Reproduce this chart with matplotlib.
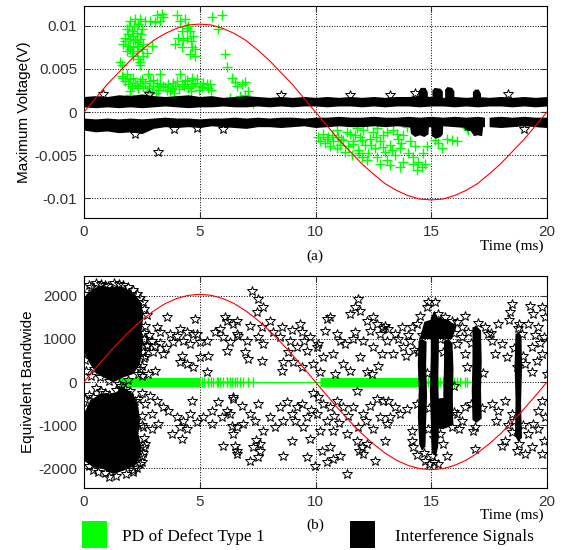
import numpy as np
import matplotlib.pyplot as plt
from matplotlib.patches import Rectangle

plt.rcParams['font.family'] = 'Liberation Sans'
plt.rcParams['axes.unicode_minus'] = False

GREEN = '#00ff00'

# power-frequency reference (one cycle, 20 ms), sampled every 0.5 ms
ref_t = [0, 0.5, 1, 1.5, 2, 2.5, 3, 3.5, 4, 4.5, 5, 5.5, 6, 6.5, 7, 7.5, 8, 8.5, 9, 9.5,
         10, 10.5, 11, 11.5, 12, 12.5, 13, 13.5, 14, 14.5, 15, 15.5, 16, 16.5, 17, 17.5,
         18, 18.5, 19, 19.5, 20]
ref_v = [0, .0016, .0032, .0046, .0060, .0072, .0083, .0091, .0097, .0101, .0102, .0101,
         .0097, .0091, .0083, .0072, .0060, .0046, .0032, .0016, 0, -.0016, -.0032, -.0046,
         -.0060, -.0072, -.0083, -.0091, -.0097, -.0101, -.0102, -.0101, -.0097, -.0091,
         -.0083, -.0072, -.0060, -.0046, -.0032, -.0016, 0]
ref_bw = [0, 320, 630, 925, 1200, 1440, 1650, 1820, 1940, 2015, 2040, 2015, 1940, 1820,
          1650, 1440, 1200, 925, 630, 320, 0, -320, -630, -925, -1200, -1440, -1650, -1820,
          -1940, -2015, -2040, -2015, -1940, -1820, -1650, -1440, -1200, -925, -630, -320, 0]

# ---------- (a) maximum voltage ----------
# PD of defect type 1 (time ms, voltage V)
pd_a = [
    (1.99, .0106), (2.20, .0108), (2.42, .0108), (2.63, .0106), (2.35, .0102),
    (1.84, .0096), (2.06, .0094), (2.27, .0092), (2.49, .0096), (1.77, .0086),
    (1.99, .0085), (2.20, .0083), (2.42, .0085), (1.70, .0079), (1.92, .0077),
    (2.13, .0075), (2.35, .0077), (2.56, .0079), (1.84, .0071), (2.06, .0069),
    (2.27, .0071), (2.49, .0073), (2.92, .0077), (2.71, .0069), (2.35, .0061),
    (2.42, .0055), (1.63, .0054), (2.13, .0065), (2.56, .0065), (1.90, .0090),
    (2.10, .0088), (2.30, .0081), (1.75, .0082), (2.00, .0073), (2.45, .0090),
    (2.15, .0100), (1.95, .0100), (3.14, .0112), (3.28, .0106), (3.43, .0110),
    (3.35, .0114), (2.85, .0106), (3.06, .0104), (4.00, .0112), (4.15, .0106),
    (4.36, .0108), (4.50, .0100), (4.22, .0094), (4.58, .0094), (4.72, .0088),
    (4.43, .0086), (4.07, .0086), (4.29, .0083), (3.93, .0079), (4.22, .0075),
    (4.65, .0075), (4.80, .0073), (4.58, .0067), (4.80, .0065), (4.45, .0097),
    (4.60, .0082), (5.51, .0110), (5.95, .0112), (5.80, .0096), (6.09, .0067),
    (6.16, .0052), (6.38, .0040), (6.52, .0035), (6.60, .0030), (6.81, .0033),
    (6.95, .0035), (7.10, .0024), (6.95, .0020), (6.74, .0018), (6.30, .0016),
    (7.32, .0010),
    (1.63, .0042), (1.84, .0044), (1.77, .0036), (1.99, .0038), (2.06, .0030),
    (2.20, .0034), (2.42, .0036), (2.35, .0028), (2.56, .0030), (2.78, .0044),
    (2.85, .0036), (2.99, .0030), (3.14, .0034), (3.28, .0044), (3.21, .0026),
    (3.43, .0030), (3.57, .0026), (3.78, .0028), (3.93, .0030), (4.00, .0036),
    (4.15, .0044), (4.22, .0032), (4.36, .0036), (4.50, .0028), (4.65, .0040),
    (4.72, .0032), (4.87, .0038), (5.01, .0030), (5.15, .0034), (5.30, .0032),
    (5.37, .0028), (2.71, .0024), (2.92, .0022), (3.64, .0032), (1.99, .0024),
    (1.70, .0039), (1.90, .0033), (2.10, .0040), (2.30, .0031), (2.50, .0038),
    (2.65, .0034), (2.80, .0028), (3.00, .0037), (3.30, .0033), (3.50, .0029),
    (3.70, .0024), (3.85, .0034), (4.10, .0027), (4.30, .0030), (4.45, .0037),
    (4.60, .0030), (4.80, .0034), (4.95, .0026), (5.10, .0029), (5.45, .0033),
    (5.50, .0026), (2.00, .0020), (3.10, .0022), (3.90, .0022), (4.60, .0024),
    (1.55, .0058), (2.40, .0058),
    (10.12, -.0029), (10.34, -.0025), (10.48, -.0031), (10.70, -.0027), (10.77, -.0034),
    (10.99, -.0029), (11.06, -.0038), (11.20, -.0033), (11.42, -.0040), (11.49, -.0025),
    (11.63, -.0034), (11.78, -.0019), (11.85, -.0044), (11.92, -.0029), (12.07, -.0021),
    (12.14, -.0038), (12.28, -.0048), (12.36, -.0031), (12.50, -.0023), (12.57, -.0042),
    (12.64, -.0052), (12.79, -.0034), (12.93, -.0027), (13.00, -.0046), (13.08, -.0056),
    (13.22, -.0038), (13.36, -.0021), (13.44, -.0050), (13.58, -.0031), (13.65, -.0042),
    (13.79, -.0058), (13.94, -.0017), (14.01, -.0048), (14.08, -.0034), (14.22, -.0060),
    (14.30, -.0040), (14.44, -.0058), (14.59, -.0064), (14.73, -.0060), (14.80, -.0040),
    (14.66, -.0048), (15.16, -.0033), (15.30, -.0036), (15.45, -.0042), (15.66, -.0031),
    (15.88, -.0033), (16.10, -.0034), (16.53, -.0019), (16.60, -.0021), (10.19, -.0034),
    (10.41, -.0036), (10.63, -.0040), (10.92, -.0042), (11.27, -.0046), (11.56, -.0050),
    (12.00, -.0052), (12.21, -.0056), (12.79, -.0060), (13.22, -.0062), (13.65, -.0064),
    (14.37, -.0067), (14.22, -.0052), (12.21, -.0015), (12.64, -.0019), (13.08, -.0023),
    (13.51, -.0025), (13.79, -.0027), (11.71, -.0027), (11.34, -.0023), (10.92, -.0021),
    (10.55, -.0029), (11.10, -.0031), (11.60, -.0037), (12.00, -.0033), (12.40, -.0038),
    (12.90, -.0041), (13.30, -.0044), (13.70, -.0036), (11.90, -.0047), (12.60, -.0029),
]

# interference signals, dense bands: upper band edges and lower band edges
band_t = [0, 0.5, 1, 1.5, 2, 2.5, 3, 3.5, 4, 4.5, 5, 5.5, 6, 6.5, 7, 7.5, 8, 8.5, 9, 9.5,
          10, 10.5, 11, 11.5, 12, 12.5, 13, 13.5, 14, 14.5, 15, 15.5, 16, 16.5, 17, 17.5,
          18, 18.5, 19, 19.5, 20]
band_up_top = [18, 19, 18, 20, 19, 21, 19, 18, 19, 20, 18, 19, 17, 18, 19, 18, 17, 18, 17, 18,
               17, 18, 17, 18, 17, 18, 17, 18, 18, 19, 18, 17, 18, 17, 18, 17, 18, 17, 18, 17, 18]
band_up_bot = [6, 5, 6, 5, 6, 5, 6, 7, 6, 5, 6, 6, 7, 6, 6, 7, 6, 7, 6, 7,
               7, 6, 7, 7, 6, 7, 6, 7, 7, 6, 7, 7, 6, 7, 6, 7, 7, 6, 7, 6, 7]
band_lo_t1 = [0, 0.5, 1, 1.5, 2, 2.5, 3, 3.5, 4, 4.5, 5, 5.5, 6, 6.5, 7, 7.5, 8, 8.5, 9, 9.5,
              10, 10.5, 11, 11.5, 12, 12.5, 13, 13.5, 14, 14.5, 15, 15.5, 16, 16.5, 17, 17.3]
band_lo_top1 = [-7, -8, -7, -8, -7, -8, -7, -6, -7, -7, -8, -7, -7, -6, -7, -6, -7, -6, -6, -7,
                -6, -6, -5, -6, -6, -5, -6, -6, -5, -6, -5, -6, -5, -6, -5, -6]
band_lo_bot1 = [-21, -23, -22, -24, -23, -25, -19, -17, -18, -17, -18, -16, -17, -18, -19, -17,
                -17, -18, -17, -16, -18, -17, -16, -17, -17, -16, -17, -16, -17, -18, -17, -16,
                -17, -18, -17, -17]
band_lo_t2 = [17.5, 18, 18.5, 19, 19.5, 20]
band_lo_top2 = [-6, -5, -6, -5, -6, -6]
band_lo_bot2 = [-17, -18, -17, -16, -17, -18]

# bursts above / below the bands
bursts_a = [
    ([14.45, 14.45, 14.55, 14.75, 14.85, 14.85], [.0015, .0024, .0028, .0028, .0023, .0015]),
    ([15.05, 15.05, 15.15, 15.40, 15.50, 15.50], [.0015, .0025, .0028, .0027, .0024, .0015]),
    ([15.60, 15.60, 15.70, 15.90, 16.00, 16.00], [.0015, .0026, .0029, .0028, .0024, .0015]),
    ([16.80, 16.80, 16.90, 17.05, 17.15, 17.15], [.0015, .0023, .0026, .0026, .0021, .0015]),
    ([14.08, 14.12, 14.30, 14.50, 14.70, 14.88, 14.90],
     [-.0015, -.0025, -.0029, -.0027, -.0029, -.0026, -.0015]),
    ([15.00, 15.02, 15.20, 15.40, 15.50, 15.52], [-.0015, -.0028, -.0031, -.0029, -.0026, -.0015]),
    ([16.40, 16.45, 16.70, 16.85, 17.00, 17.20, 17.25],
     [-.0015, -.0021, -.0022, -.0028, -.0027, -.0028, -.0015]),
]

# isolated interference pulses in (a)
if_a = [(3.2, -.0046), (2.2, -.0025), (3.9, -.0020), (2.8, .0021), (4.9, -.0019),
        (14.3, .0022), (13.2, .0020), (18.3, .0021), (8.5, .0020), (19.0, -.0020),
        (6.0, -.0020), (0.8, .0021), (11.5, .0020)]

# ---------- (b) equivalent bandwidth ----------
blobs_b = [
    ([0.12, 0.40, 0.69, 1.12, 1.55, 1.99, 2.28, 2.49, 2.56, 2.49, 2.56, 2.49, 2.42, 2.13,
      1.70, 1.27, 0.98, 0.55, 0.26, 0.04, 0.00, 0.04, 0.00, 0.04],
     [2047, 2163, 2241, 2202, 2218, 2125, 1970, 1814, 1504, 1194, 962, 651, 419, 186,
      109, -8, 70, 186, 419, 651, 962, 1349, 1737, 1970]),
    ([0.00, 0.26, 0.69, 1.27, 1.70, 2.13, 2.35, 2.42, 2.35, 2.49, 2.42, 2.21, 1.70, 1.27,
      0.83, 0.40, 0.00],
     [-744, -434, -279, -279, -124, -279, -589, -899, -1210, -1520, -1752, -1946, -2063,
      -2140, -2024, -1985, -1830]),
    ([14.45, 14.60, 14.80, 14.78, 14.82, 14.78, 14.75, 14.60, 14.48, 14.42, 14.46, 14.42],
     [960, 1000, 940, 400, -300, -900, -1500, -1600, -1450, -800, -200, 400]),
    ([14.98, 15.15, 15.30, 15.33, 15.30, 15.35, 15.30, 15.20, 15.02, 14.98, 14.94, 14.98],
     [1500, 1660, 1450, 800, 0, -800, -1500, -1750, -1600, -900, -200, 600]),
    ([15.55, 15.75, 15.92, 15.96, 15.93, 15.95, 15.75, 15.55, 15.52, 15.55],
     [960, 1000, 900, 300, -400, -950, -1000, -950, -300, 400]),
    ([16.78, 16.95, 17.15, 17.18, 17.15, 17.18, 16.95, 16.78, 16.75, 16.78],
     [1270, 1300, 1200, 500, -200, -850, -950, -880, -200, 500]),
    ([18.64, 18.80, 18.90, 18.92, 18.88, 18.92, 18.75, 18.62, 18.64, 18.60],
     [1120, 1150, 1050, 300, -500, -1300, -1380, -1250, -400, 400]),
    ([15.00, 15.90, 15.95, 15.50, 15.00], [-400, -350, -1000, -1100, -1050]),
    ([14.50, 15.90, 16.10, 15.70, 15.30, 14.70], [1000, 1000, 1300, 1450, 1500, 1400]),
]

if_b_up = [
    (3.57, 1504), (4.80, 1465), (3.14, 1272), (3.28, 1155), (2.92, 962), (2.71, 845),
    (3.07, 845), (3.43, 651), (3.72, 1117), (4.00, 1078), (4.15, 1233), (4.43, 1155),
    (4.72, 1117), (4.29, 962), (3.86, 922), (4.58, 884), (5.01, 922), (5.30, 962),
    (4.87, 1117), (4.22, 612), (4.15, 457), (4.43, 419), (4.72, 341), (5.01, 574),
    (5.37, 612), (5.30, 225), (5.66, 1155), (5.87, 1233), (6.16, 1427), (6.09, 1504),
    (6.45, 1349), (6.02, 1039), (6.30, 922), (6.16, 729), (6.59, 1117), (3.07, 264),
    (2.78, 186), (2.49, 380), (2.35, 186), (2.80, 1100), (3.00, 700), (3.30, 900),
    (2.65, 600), (3.55, 800), (7.24, 2124), (7.53, 1931), (7.75, 1737), (7.46, 1621),
    (6.59, 1427), (7.17, 1310), (8.03, 1427), (7.67, 1272), (6.67, 1078), (7.03, 962),
    (7.53, 1039), (7.75, 884), (8.18, 1155), (8.54, 1272), (8.47, 1039), (8.90, 962),
    (9.33, 1349), (9.40, 1155), (9.76, 1039), (9.19, 806), (9.62, 729), (10.05, 806),
    (6.96, 690), (7.67, 496), (7.10, 535), (8.61, 457), (8.54, 264), (9.04, 457),
    (9.40, 341), (9.91, 419), (10.19, 225), (10.12, 884), (10.41, 1194), (10.63, 1504),
    (10.48, 1465), (10.34, 574), (10.77, 651), (11.06, 962), (10.91, 1117), (11.27, 884),
    (10.84, 186), (11.20, 419), (11.49, 264), (11.85, 1931), (11.71, 1737), (11.49, 1582),
    (11.92, 1660), (12.21, 1427), (12.50, 1504), (12.64, 1349), (12.35, 1194),
    (12.79, 1117), (12.07, 962), (12.50, 806), (12.86, 651), (11.92, 574), (12.21, 225),
    (12.43, 186), (13.08, 962), (13.00, 1310), (12.72, 380), (11.71, 1155), (9.00, 1200),
    (8.80, 700), (9.50, 950), (11.60, 1000), (12.90, 1250), (13.15, 1233), (13.43, 1117),
    (13.57, 1000), (13.72, 1272), (13.36, 651), (13.79, 806), (14.08, 962), (14.15, 1272),
    (14.37, 1349), (14.51, 1543), (14.87, 1853), (15.16, 1853), (14.80, 1737),
    (15.30, 1582), (15.59, 1504), (15.88, 1427), (16.10, 1388), (16.46, 1543),
    (16.31, 1272), (16.60, 1155), (16.31, 1039), (16.10, 884), (16.46, 651), (16.53, 341),
    (17.32, 1272), (17.46, 1117), (17.90, 1349), (17.61, 962), (18.05, 884), (17.76, 651),
    (18.26, 574), (18.48, 1814), (18.40, 1621), (18.77, 1349), (18.91, 1117), (18.70, 341),
    (19.27, 1776), (19.41, 1582), (19.78, 1737), (19.92, 1504), (19.63, 1272),
    (19.85, 1039), (19.34, 806), (19.78, 651), (19.34, 225), (19.05, 419), (19.56, 496),
    (19.99, 186), (19.50, 1100), (19.20, 1350), (19.70, 900), (18.35, 1450), (17.60, 1150),
    (16.00, 1150), (14.00, 1100), (13.90, 600), (14.25, 750),
    (0.20, 2250), (0.50, 2300), (0.90, 2260), (1.30, 2300), (1.70, 2250), (2.10, 2150),
    (2.40, 1950), (2.60, 1700), (2.65, 1300), (2.60, 1000), (2.55, 700), (2.40, 300),
    (0.05, 500), (0.10, 250), (0.30, 150), (0.00, 1200), (0.00, 1600),
    (0.00, 2050), (0.30, 2200), (0.75, 2280), (1.05, 2240), (1.50, 2280), (1.90, 2200),
    (2.30, 2050), (2.55, 1850), (2.70, 1550), (2.60, 1150), (2.70, 850), (2.60, 550),
    (2.50, 150), (1.90, 50), (1.50, -50), (1.10, 30), (0.70, 120), (0.45, 300),
    (0.15, 800), (0.05, 1800),
    (14.42, 700), (14.82, 200), (14.60, 1100), (14.95, 1200), (15.36, 1000),
    (15.50, 700), (15.70, 1100), (16.72, 900), (17.22, 200), (17.00, 1380),
    (18.58, 800), (18.95, 600), (18.75, 1250),
]

if_b_lo = [
    (1.77, -171), (2.49, -248), (2.85, -326), (3.14, -434), (2.64, -512), (3.43, -589),
    (2.92, -744), (2.56, -1054), (2.92, -1094), (3.21, -977), (3.64, -667), (4.00, -822),
    (4.29, -899), (4.58, -744), (4.65, -434), (4.87, -938), (5.16, -822), (5.51, -667),
    (5.80, -473), (5.94, -822), (6.16, -667), (6.45, -357), (6.38, -1016), (6.45, -1210),
    (6.02, -1481), (6.59, -1597), (4.15, -1054), (3.79, -1210), (4.22, -1326),
    (4.43, -1094), (5.51, -977), (2.13, -2102), (2.49, -1714), (2.64, -1442),
    (6.45, -395), (6.31, -744), (6.81, -551), (7.17, -744), (7.53, -512), (6.59, -1054),
    (6.88, -977), (7.39, -899), (7.75, -1132), (6.52, -1481), (6.59, -1675), (7.31, -1520),
    (7.60, -1442), (7.53, -1752), (7.17, -1830), (7.60, -1597), (7.45, -1350), (8.03, -822),
    (8.25, -1054), (8.47, -589), (8.76, -473), (8.97, -744), (9.19, -589), (9.40, -512),
    (9.62, -822), (9.12, -899), (9.48, -1054), (8.97, -1365), (9.76, -1326), (8.61, -1714),
    (9.62, -1752), (9.98, -1946), (9.91, -248), (10.12, -357), (10.34, -512),
    (10.63, -589), (10.05, -744), (10.48, -899), (10.19, -1132), (10.77, -1132),
    (10.91, -434), (11.20, -589), (11.42, -783), (11.78, -202), (11.63, -589),
    (11.34, -1210), (10.63, -1520), (10.26, -1597), (11.06, -1714), (11.34, -2140),
    (10.48, -1868), (10.77, -1791), (11.85, -1054), (12.07, -744), (12.35, -551),
    (12.64, -395), (12.93, -434), (12.79, -822), (13.08, -977), (12.50, -1094),
    (13.00, -1365), (12.57, -1830), (11.78, -1365), (12.00, -1520), (12.07, -1675),
    (12.21, -1442), (11.90, -1600), (10.80, -800), (11.00, -950), (9.80, -650),
    (8.60, -900), (12.20, -900), (13.15, -434), (13.43, -589), (13.22, -822),
    (13.65, -744), (13.94, -628), (14.15, -1132), (14.15, -1365), (14.22, -1520),
    (14.73, -1830), (15.02, -1714), (15.30, -1907), (15.52, -1442), (15.66, -1714),
    (15.88, -1054), (16.10, -744), (16.46, -589), (16.31, -899), (16.82, -1132),
    (16.89, -1559), (17.61, -512), (17.90, -667), (18.19, -434), (18.48, -744),
    (18.05, -1481), (18.19, -1365), (18.48, -1171), (18.70, -1597), (19.05, -1675),
    (19.20, -1210), (19.41, -977), (19.63, -667), (19.78, -434), (19.92, -822),
    (19.85, -1365), (19.78, -1675), (19.34, -1520), (14.40, -1700), (14.90, -1900),
    (15.10, -1300), (16.20, -1100), (17.80, -900), (18.30, -1000), (19.60, -1100),
    (0.05, -400), (0.20, -300), (0.50, -150), (0.90, -250), (1.40, -180), (1.80, -250),
    (2.20, -450), (2.50, -800), (2.60, -1300), (2.55, -1650), (2.40, -1900), (2.10, -2050),
    (1.40, -2180), (0.90, -2120), (0.40, -2050), (0.00, -1500), (0.00, -1000),
    (0.10, -600), (0.40, -350), (0.75, -200), (1.10, -300), (1.60, -100), (2.00, -200),
    (2.35, -400), (2.50, -1000), (2.60, -1500), (2.50, -1850), (2.30, -2000),
    (1.80, -2150), (1.10, -2200), (0.60, -2100), (0.20, -1950), (0.05, -1200),
    (14.40, -500), (14.84, -1100), (14.70, -1650), (14.92, -600), (15.38, -1200),
    (15.10, -1850), (15.98, -100), (15.50, -600), (15.98, -700), (16.72, -500),
    (17.20, -600), (16.90, -1050), (18.58, -900), (18.95, -1000), (18.80, -1450),
]

# PD of defect type 1 in (b): solid runs and single pulses at zero bandwidth
pd_b_runs = [(1.5, 5.0), (10.2, 14.55)]
pd_b_t = [5.08, 5.20, 5.36, 5.50, 5.57, 5.73, 5.79, 5.87, 6.00, 6.16, 6.18, 6.30, 6.39,
          6.52, 6.60, 6.74, 6.87, 7.08, 7.30, 14.60, 14.73, 14.87, 15.00, 15.16, 15.30,
          15.38, 15.52, 15.66, 15.75, 15.88, 16.00, 16.10, 16.25, 16.46, 16.53]

legend_labels = ['PD of Defect Type 1', 'Interference Signals']

fig = plt.figure(figsize=(5.62, 5.5), dpi=100)
ax1 = fig.add_axes([0.1495, 0.6036, 0.8238, 0.3855])
ax2 = fig.add_axes([0.1495, 0.1127, 0.8238, 0.3855])

star = dict(ls='none', marker='*', ms=7, mfc='none', mec='k', mew=0.7, zorder=3)
plus = dict(ls='none', marker='+', ms=7.5, mec=GREEN, mew=1.0, zorder=2)

# (a)
t, v = np.array(pd_a).T
ax1.plot(t, v, **plus)
ax1.fill_between(band_t, np.array(band_up_bot) * 1e-4, np.array(band_up_top) * 1e-4,
                 color='k', lw=0, zorder=3)
ax1.fill_between(band_lo_t1, np.array(band_lo_bot1) * 1e-4, np.array(band_lo_top1) * 1e-4,
                 color='k', lw=0, zorder=3)
ax1.fill_between(band_lo_t2, np.array(band_lo_bot2) * 1e-4, np.array(band_lo_top2) * 1e-4,
                 color='k', lw=0, zorder=3)
for bt, bv in bursts_a:
    ax1.fill(bt, bv, color='k', lw=0, zorder=3)
t, v = np.array(if_a).T
ax1.plot(t, v, **star)
ax1.plot(ref_t, ref_v, color='red', lw=0.8, zorder=4)
ax1.set_ylim(-0.0123, 0.0123)
ax1.set_yticks([-0.01, -0.005, 0, 0.005, 0.01])
ax1.set_yticklabels(['-0.01', '-0.005', '0', '0.005', '0.01'])
ax1.set_ylabel('Maximum Voltage(V)', fontsize=11, labelpad=2)

# (b)
for x0, x1 in pd_b_runs:
    ax2.plot([x0, x1], [0, 0], color=GREEN, lw=6.5, solid_capstyle='butt', zorder=2)
ax2.plot(pd_b_t, np.zeros(len(pd_b_t)), color=GREEN, lw=0.9, zorder=2)
ax2.plot(pd_b_t, np.zeros(len(pd_b_t)), marker='+', ls='none', ms=7.5, mec=GREEN, mew=1.0,
         zorder=2)
for bt, bv in blobs_b:
    ax2.fill(bt, bv, color='k', lw=0, zorder=3)
for pts in (if_b_up, if_b_lo):
    t, v = np.array(pts).T
    ax2.plot(t, v, **star)
ax2.plot(ref_t, ref_bw, color='red', lw=0.8, zorder=4)
ax2.set_ylim(-2465, 2465)
ax2.set_yticks([-2000, -1000, 0, 1000, 2000])
ax2.set_yticklabels(['-2000', '-1000', '0', '1000', '2000'])
ax2.set_ylabel('Equivalent Bandwide', fontsize=11, labelpad=2)

for ax in (ax1, ax2):
    ax.set_xlim(0, 20)
    ax.set_xticks([0, 5, 10, 15, 20])
    ax.grid(True, color='k', ls=':', lw=0.7)
    ax.set_axisbelow(True)
    ax.tick_params(direction='in', top=True, right=True, length=4, labelsize=11,
                   pad=5, colors='#333333', labelcolor='#333333')
    for s in ax.spines.values():
        s.set_linewidth(0.8)

serif = 'Liberation Serif'
fig.text(0.911, 0.553, 'Time (ms)', family=serif, fontsize=11, ha='center', va='center')
fig.text(0.561, 0.534, '(a)', family=serif, fontsize=11, ha='center', va='center')
fig.text(0.911, 0.064, 'Time (ms)', family=serif, fontsize=11, ha='center', va='center')
fig.text(0.561, 0.045, '(b)', family=serif, fontsize=11, ha='center', va='center')

# legend boxes under the panels
for x, c, lab, tx in [(0.1459, GREEN, legend_labels[0], 0.217),
                      (0.6228, 'k', legend_labels[1], 0.703)]:
    fig.add_artist(Rectangle((x, 0.0036), 0.0445, 0.0491, transform=fig.transFigure,
                             color=c, lw=0))
    fig.text(tx, 0.0236, lab, family=serif, fontsize=12.4, va='center')

fig.savefig('out.png', dpi=100)
